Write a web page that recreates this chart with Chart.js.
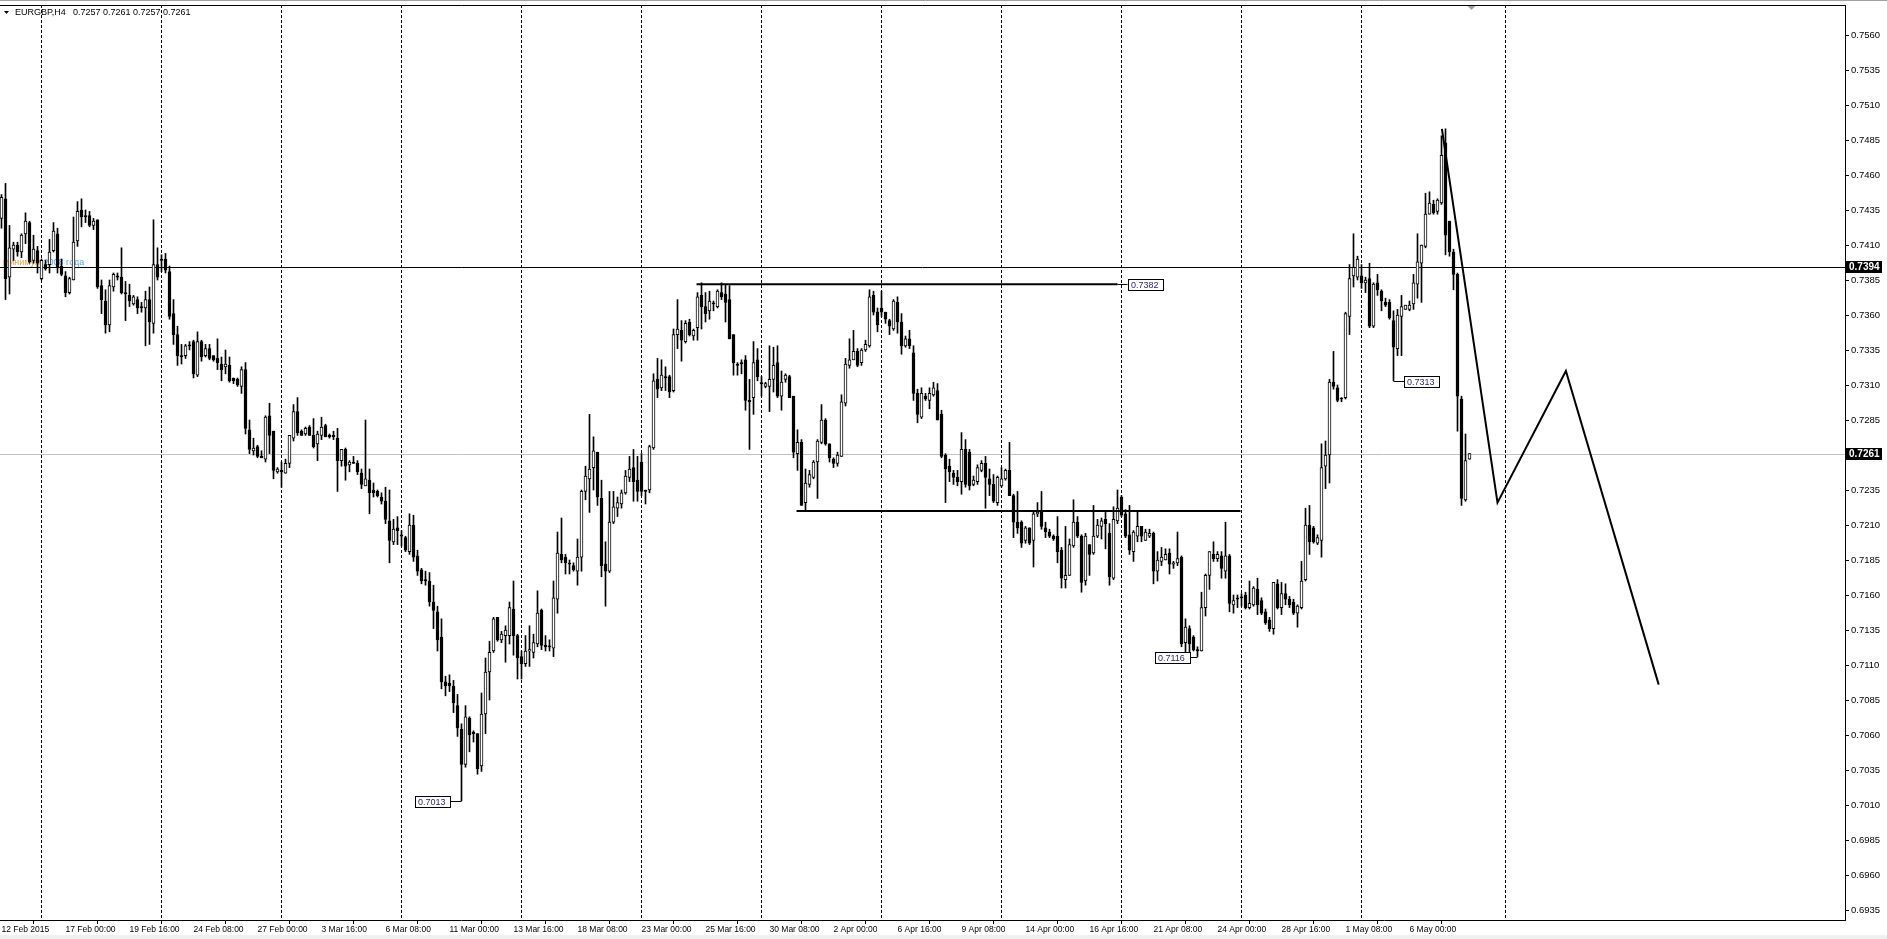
<!DOCTYPE html>
<html>
<head>
<meta charset="utf-8">
<script src="https://cdn.jsdelivr.net/npm/chart.js@4.4.1/dist/chart.umd.min.js"></script>
<style>
  html, body { margin: 0; padding: 0; background: #fff; }
  #wrap { width: 1887px; height: 939px; }
</style>
</head>
<body>
<div id="wrap"><canvas id="chart" width="1887" height="939"></canvas></div>
<script>
// EURGBP H4 bars, 12 Feb 2015 08:00 .. 8 May 2015
const opens = [
  0.7429,0.7443,0.7387,0.7407,0.7410,0.7405,0.7418,0.7426,0.7399,0.7406,
  0.7386,0.7396,0.7396,0.7406,0.7418,0.7395,0.7388,0.7376,0.7385,0.7413,
  0.7435,0.7431,0.7431,0.7424,0.7428,0.7381,0.7370,0.7353,0.7380,0.7388,
  0.7387,0.7376,0.7374,0.7368,0.7371,0.7366,0.7365,0.7371,0.7354,0.7396,
  0.7399,0.7400,0.7391,0.7361,0.7346,0.7331,0.7331,0.7338,0.7341,0.7317,
  0.7341,0.7331,0.7336,0.7331,0.7329,0.7325,0.7323,0.7324,0.7315,0.7314,
  0.7309,0.7321,0.7278,0.7263,0.7266,0.7259,0.7257,0.7288,0.7277,0.7248,
  0.7249,0.7247,0.7254,0.7272,0.7291,0.7277,0.7275,0.7280,0.7274,0.7268,
  0.7274,0.7281,0.7274,0.7274,0.7272,0.7256,0.7264,0.7253,0.7255,0.7254,
  0.7247,0.7238,0.7242,0.7235,0.7234,0.7230,0.7227,0.7213,0.7198,0.7208,
  0.7203,0.7201,0.7191,0.7210,0.7188,0.7178,0.7171,0.7170,0.7155,0.7148,
  0.7130,0.7098,0.7097,0.7095,0.7081,0.7064,0.7039,0.7072,0.7062,0.7061,
  0.7038,0.7075,0.7105,0.7120,0.7144,0.7128,0.7131,0.7131,0.7150,0.7131,
  0.7116,0.7111,0.7120,0.7119,0.7125,0.7149,0.7124,0.7123,0.7122,0.7157,
  0.7189,0.7187,0.7182,0.7181,0.7177,0.7187,0.7234,0.7243,0.7251,0.7262,
  0.7229,0.7182,0.7177,0.7212,0.7222,0.7225,0.7233,0.7244,0.7251,0.7242,
  0.7255,0.7234,0.7235,0.7265,0.7314,0.7308,0.7316,0.7316,0.7306,0.7346,
  0.7349,0.7341,0.7355,0.7345,0.7351,0.7374,0.7366,0.7363,0.7368,0.7366,
  0.7376,0.7375,0.7371,0.7346,0.7325,0.7326,0.7328,0.7299,0.7301,0.7328,
  0.7311,0.7309,0.7309,0.7314,0.7326,0.7302,0.7314,0.7316,0.7302,0.7261,
  0.7269,0.7226,0.7239,0.7244,0.7255,0.7269,0.7285,0.7268,0.7257,0.7254,
  0.7259,0.7297,0.7324,0.7328,0.7334,0.7326,0.7335,0.7338,0.7374,0.7362,
  0.7365,0.7362,0.7356,0.7350,0.7369,0.7355,0.7338,0.7343,0.7333,0.7304,
  0.7287,0.7302,0.7299,0.7303,0.7306,0.7289,0.7260,0.7252,0.7247,0.7244,
  0.7241,0.7264,0.7262,0.7239,0.7241,0.7249,0.7254,0.7243,0.7239,0.7226,
  0.7238,0.7243,0.7249,0.7231,0.7212,0.7212,0.7199,0.7208,0.7199,0.7218,
  0.7220,0.7208,0.7205,0.7202,0.7202,0.7192,0.7171,0.7174,0.7195,0.7212,
  0.7202,0.7170,0.7196,0.7190,0.7202,0.7209,0.7214,0.7204,0.7172,0.7213,
  0.7230,0.7218,0.7203,0.7191,0.7202,0.7209,0.7199,0.7202,0.7204,0.7177,
  0.7184,0.7185,0.7190,0.7182,0.7183,0.7187,0.7126,0.7136,0.7130,0.7121,
  0.7120,0.7151,0.7174,0.7189,0.7186,0.7188,0.7177,0.7188,0.7153,0.7157,
  0.7158,0.7160,0.7151,0.7153,0.7164,0.7156,0.7148,0.7142,0.7136,0.7168,
  0.7151,0.7161,0.7157,0.7155,0.7147,0.7151,0.7171,0.7210,0.7208,0.7197,
  0.7199,0.7252,0.7260,0.7312,0.7308,0.7300,0.7301,0.7359,0.7388,0.7387,
  0.7388,0.7383,0.7386,0.7352,0.7383,0.7377,0.7369,0.7369,0.7356,0.7336,
  0.7359,0.7364,0.7364,0.7368,0.7382,0.7397,0.7409,0.7432,0.7439,0.7434,
  0.7440,0.7483,0.7427,0.7405,0.7389,0.7300,0.7228,0.7257
];
const highs = [
  0.7446,0.7454,0.7424,0.7412,0.7412,0.7418,0.7433,0.7427,0.7417,0.7409,
  0.7400,0.7399,0.7414,0.7426,0.7422,0.7400,0.7391,0.7387,0.7430,0.7441,
  0.7443,0.7435,0.7434,0.7429,0.7428,0.7385,0.7378,0.7385,0.7390,0.7390,
  0.7408,0.7384,0.7382,0.7374,0.7373,0.7369,0.7377,0.7380,0.7428,0.7408,
  0.7403,0.7404,0.7395,0.7371,0.7352,0.7339,0.7339,0.7341,0.7342,0.7348,
  0.7342,0.7339,0.7339,0.7331,0.7343,0.7330,0.7335,0.7330,0.7315,0.7315,
  0.7323,0.7326,0.7285,0.7272,0.7267,0.7263,0.7288,0.7297,0.7277,0.7251,
  0.7255,0.7257,0.7274,0.7296,0.7301,0.7278,0.7280,0.7281,0.7286,0.7277,
  0.7287,0.7282,0.7275,0.7277,0.7279,0.7264,0.7265,0.7256,0.7259,0.7256,
  0.7250,0.7285,0.7250,0.7240,0.7235,0.7233,0.7237,0.7235,0.7214,0.7216,
  0.7206,0.7202,0.7218,0.7217,0.7192,0.7179,0.7177,0.7176,0.7167,0.7152,
  0.7143,0.7102,0.7103,0.7099,0.7089,0.7068,0.7081,0.7073,0.7063,0.7061,
  0.7090,0.7115,0.7127,0.7144,0.7144,0.7134,0.7138,0.7155,0.7170,0.7132,
  0.7120,0.7131,0.7138,0.7132,0.7163,0.7150,0.7131,0.7128,0.7170,0.7205,
  0.7215,0.7189,0.7185,0.7183,0.7200,0.7235,0.7252,0.7289,0.7273,0.7262,
  0.7242,0.7198,0.7234,0.7234,0.7230,0.7235,0.7249,0.7259,0.7264,0.7259,
  0.7261,0.7235,0.7267,0.7318,0.7329,0.7328,0.7323,0.7317,0.7350,0.7371,
  0.7356,0.7356,0.7357,0.7350,0.7376,0.7383,0.7376,0.7377,0.7370,0.7378,
  0.7383,0.7382,0.7381,0.7346,0.7326,0.7328,0.7331,0.7314,0.7341,0.7336,
  0.7316,0.7312,0.7338,0.7337,0.7338,0.7320,0.7318,0.7317,0.7302,0.7278,
  0.7271,0.7250,0.7249,0.7256,0.7271,0.7296,0.7286,0.7268,0.7258,0.7262,
  0.7303,0.7329,0.7343,0.7349,0.7336,0.7336,0.7342,0.7378,0.7377,0.7365,
  0.7377,0.7362,0.7357,0.7371,0.7373,0.7361,0.7345,0.7349,0.7338,0.7307,
  0.7308,0.7304,0.7308,0.7312,0.7311,0.7292,0.7261,0.7257,0.7249,0.7249,
  0.7276,0.7271,0.7264,0.7245,0.7253,0.7256,0.7259,0.7250,0.7246,0.7245,
  0.7251,0.7250,0.7269,0.7232,0.7234,0.7213,0.7209,0.7208,0.7220,0.7226,
  0.7234,0.7212,0.7207,0.7203,0.7216,0.7194,0.7209,0.7200,0.7228,0.7216,
  0.7203,0.7204,0.7196,0.7224,0.7214,0.7215,0.7219,0.7211,0.7223,0.7235,
  0.7231,0.7221,0.7224,0.7206,0.7220,0.7209,0.7207,0.7207,0.7205,0.7191,
  0.7194,0.7193,0.7193,0.7184,0.7205,0.7188,0.7143,0.7138,0.7131,0.7123,
  0.7162,0.7175,0.7191,0.7198,0.7191,0.7191,0.7212,0.7189,0.7160,0.7160,
  0.7161,0.7162,0.7170,0.7166,0.7172,0.7158,0.7150,0.7144,0.7169,0.7171,
  0.7169,0.7168,0.7159,0.7157,0.7153,0.7184,0.7222,0.7224,0.7209,0.7203,
  0.7268,0.7270,0.7314,0.7334,0.7310,0.7301,0.7362,0.7396,0.7418,0.7402,
  0.7396,0.7387,0.7397,0.7383,0.7389,0.7378,0.7372,0.7371,0.7363,0.7364,
  0.7374,0.7367,0.7370,0.7389,0.7418,0.7410,0.7447,0.7448,0.7442,0.7443,
  0.7488,0.7493,0.7427,0.7407,0.7390,0.7302,0.7275,0.7261
];
const lows = [
  0.7422,0.7371,0.7375,0.7399,0.7402,0.7401,0.7411,0.7397,0.7397,0.7390,
  0.7385,0.7392,0.7390,0.7405,0.7390,0.7388,0.7373,0.7375,0.7385,0.7409,
  0.7423,0.7426,0.7423,0.7421,0.7379,0.7361,0.7347,0.7348,0.7377,0.7385,
  0.7375,0.7356,0.7366,0.7367,0.7361,0.7362,0.7338,0.7339,0.7347,0.7385,
  0.7391,0.7390,0.7357,0.7339,0.7324,0.7325,0.7329,0.7335,0.7315,0.7316,
  0.7327,0.7330,0.7328,0.7327,0.7321,0.7313,0.7318,0.7312,0.7311,0.7309,
  0.7304,0.7275,0.7261,0.7260,0.7258,0.7258,0.7255,0.7261,0.7243,0.7247,
  0.7237,0.7247,0.7251,0.7270,0.7274,0.7274,0.7274,0.7274,0.7265,0.7256,
  0.7271,0.7273,0.7272,0.7271,0.7234,0.7252,0.7242,0.7248,0.7254,0.7246,
  0.7236,0.7238,0.7218,0.7230,0.7230,0.7225,0.7211,0.7183,0.7196,0.7196,
  0.7195,0.7191,0.7189,0.7184,0.7174,0.7168,0.7167,0.7152,0.7136,0.7120,
  0.7093,0.7088,0.7091,0.7076,0.7059,0.7013,0.7037,0.7048,0.7055,0.7032,
  0.7034,0.7061,0.7085,0.7119,0.7127,0.7126,0.7112,0.7125,0.7117,0.7100,
  0.7100,0.7109,0.7109,0.7115,0.7123,0.7121,0.7120,0.7120,0.7116,0.7147,
  0.7183,0.7175,0.7175,0.7177,0.7167,0.7177,0.7228,0.7219,0.7235,0.7224,
  0.7173,0.7152,0.7176,0.7211,0.7216,0.7222,0.7232,0.7241,0.7227,0.7227,
  0.7231,0.7225,0.7233,0.7264,0.7301,0.7306,0.7306,0.7301,0.7305,0.7336,
  0.7327,0.7340,0.7345,0.7342,0.7342,0.7350,0.7355,0.7357,0.7363,0.7365,
  0.7371,0.7355,0.7343,0.7317,0.7317,0.7318,0.7292,0.7264,0.7289,0.7313,
  0.7302,0.7308,0.7291,0.7305,0.7301,0.7292,0.7312,0.7301,0.7258,0.7249,
  0.7224,0.7220,0.7237,0.7243,0.7229,0.7268,0.7267,0.7255,0.7251,0.7252,
  0.7259,0.7295,0.7322,0.7328,0.7323,0.7324,0.7334,0.7337,0.7360,0.7348,
  0.7359,0.7354,0.7346,0.7349,0.7347,0.7332,0.7337,0.7336,0.7299,0.7283,
  0.7286,0.7299,0.7293,0.7302,0.7285,0.7258,0.7226,0.7241,0.7239,0.7238,
  0.7232,0.7237,0.7235,0.7238,0.7239,0.7248,0.7222,0.7231,0.7226,0.7224,
  0.7237,0.7242,0.7231,0.7201,0.7204,0.7194,0.7197,0.7196,0.7180,0.7216,
  0.7207,0.7201,0.7201,0.7199,0.7183,0.7165,0.7165,0.7174,0.7194,0.7201,
  0.7162,0.7167,0.7174,0.7189,0.7201,0.7200,0.7193,0.7167,0.7171,0.7211,
  0.7216,0.7201,0.7189,0.7184,0.7198,0.7198,0.7199,0.7201,0.7168,0.7170,
  0.7181,0.7185,0.7175,0.7179,0.7181,0.7123,0.7118,0.7118,0.7120,0.7116,
  0.7120,0.7145,0.7164,0.7184,0.7184,0.7172,0.7172,0.7148,0.7147,0.7151,
  0.7152,0.7150,0.7150,0.7152,0.7146,0.7146,0.7139,0.7134,0.7132,0.7150,
  0.7146,0.7153,0.7151,0.7146,0.7137,0.7150,0.7170,0.7189,0.7197,0.7196,
  0.7187,0.7236,0.7240,0.7307,0.7298,0.7298,0.7300,0.7346,0.7380,0.7385,
  0.7379,0.7376,0.7351,0.7351,0.7374,0.7363,0.7366,0.7357,0.7313,0.7331,
  0.7331,0.7364,0.7363,0.7364,0.7372,0.7369,0.7408,0.7432,0.7432,0.7432,
  0.7439,0.7403,0.7402,0.7378,0.7277,0.7224,0.7227,0.7257
];
const closes = [
  0.7444,0.7386,0.7408,0.7410,0.7405,0.7417,0.7427,0.7398,0.7407,0.7397,
  0.7399,0.7393,0.7405,0.7420,0.7394,0.7389,0.7376,0.7386,0.7412,0.7434,
  0.7430,0.7430,0.7424,0.7427,0.7380,0.7371,0.7353,0.7381,0.7389,0.7387,
  0.7376,0.7375,0.7370,0.7373,0.7365,0.7365,0.7371,0.7355,0.7396,0.7387,
  0.7399,0.7392,0.7359,0.7346,0.7331,0.7330,0.7338,0.7338,0.7318,0.7341,
  0.7330,0.7336,0.7329,0.7328,0.7326,0.7321,0.7325,0.7313,0.7313,0.7310,
  0.7321,0.7279,0.7264,0.7265,0.7259,0.7258,0.7287,0.7274,0.7249,0.7250,
  0.7248,0.7254,0.7274,0.7291,0.7276,0.7274,0.7279,0.7274,0.7266,0.7275,
  0.7280,0.7273,0.7273,0.7273,0.7256,0.7264,0.7252,0.7255,0.7254,0.7248,
  0.7239,0.7243,0.7233,0.7233,0.7231,0.7227,0.7214,0.7199,0.7207,0.7206,
  0.7202,0.7192,0.7210,0.7187,0.7177,0.7170,0.7170,0.7155,0.7149,0.7128,
  0.7098,0.7095,0.7095,0.7083,0.7065,0.7039,0.7073,0.7060,0.7061,0.7036,
  0.7075,0.7105,0.7119,0.7143,0.7128,0.7132,0.7135,0.7151,0.7131,0.7115,
  0.7111,0.7120,0.7121,0.7126,0.7147,0.7124,0.7123,0.7123,0.7158,0.7190,
  0.7185,0.7183,0.7182,0.7178,0.7187,0.7234,0.7245,0.7250,0.7263,0.7230,
  0.7181,0.7177,0.7212,0.7223,0.7226,0.7233,0.7245,0.7250,0.7241,0.7234,
  0.7234,0.7234,0.7266,0.7313,0.7307,0.7317,0.7315,0.7305,0.7346,0.7350,
  0.7342,0.7354,0.7346,0.7349,0.7373,0.7366,0.7361,0.7370,0.7368,0.7377,
  0.7373,0.7369,0.7343,0.7326,0.7324,0.7325,0.7299,0.7298,0.7326,0.7316,
  0.7311,0.7311,0.7314,0.7324,0.7302,0.7312,0.7317,0.7301,0.7262,0.7269,
  0.7224,0.7240,0.7246,0.7255,0.7270,0.7285,0.7268,0.7258,0.7254,0.7260,
  0.7298,0.7325,0.7328,0.7334,0.7324,0.7335,0.7339,0.7373,0.7362,0.7353,
  0.7362,0.7357,0.7352,0.7370,0.7355,0.7338,0.7343,0.7338,0.7304,0.7289,
  0.7304,0.7300,0.7304,0.7308,0.7285,0.7259,0.7250,0.7248,0.7244,0.7241,
  0.7264,0.7239,0.7238,0.7242,0.7251,0.7254,0.7244,0.7239,0.7227,0.7244,
  0.7243,0.7249,0.7231,0.7212,0.7208,0.7197,0.7208,0.7197,0.7218,0.7219,
  0.7209,0.7205,0.7202,0.7200,0.7191,0.7172,0.7174,0.7196,0.7212,0.7202,
  0.7169,0.7202,0.7189,0.7202,0.7210,0.7213,0.7211,0.7173,0.7214,0.7222,
  0.7217,0.7202,0.7192,0.7205,0.7209,0.7202,0.7205,0.7204,0.7177,0.7185,
  0.7187,0.7189,0.7182,0.7183,0.7186,0.7125,0.7137,0.7125,0.7121,0.7120,
  0.7151,0.7174,0.7191,0.7186,0.7189,0.7179,0.7188,0.7154,0.7156,0.7157,
  0.7158,0.7151,0.7154,0.7165,0.7153,0.7147,0.7140,0.7136,0.7169,0.7151,
  0.7161,0.7157,0.7153,0.7147,0.7152,0.7170,0.7210,0.7198,0.7198,0.7201,
  0.7251,0.7260,0.7312,0.7309,0.7299,0.7300,0.7361,0.7386,0.7394,0.7400,
  0.7383,0.7385,0.7352,0.7382,0.7378,0.7370,0.7367,0.7358,0.7337,0.7360,
  0.7366,0.7367,0.7367,0.7383,0.7398,0.7410,0.7432,0.7440,0.7433,0.7442,
  0.7474,0.7417,0.7405,0.7389,0.7302,0.7229,0.7256,0.7261
];

// time scale labels, one every 16 bars
const timeLabels = [
  "12 Feb 2015", "17 Feb 00:00", "19 Feb 16:00", "24 Feb 08:00", "27 Feb 00:00",
  "3 Mar 16:00", "6 Mar 08:00", "11 Mar 00:00", "13 Mar 16:00", "18 Mar 08:00",
  "23 Mar 00:00", "25 Mar 16:00", "30 Mar 08:00", "2 Apr 00:00", "6 Apr 16:00",
  "9 Apr 08:00", "14 Apr 00:00", "16 Apr 16:00", "21 Apr 08:00", "24 Apr 00:00",
  "28 Apr 16:00", "1 May 08:00", "6 May 00:00"
];
const labelStep = 16;
// bars that open a new week (dashed grid)
const weekStarts = [10, 40, 70, 100, 130, 160, 190, 220, 250, 280, 310, 340, 376];
const priceTicks = [
  0.6935, 0.6960, 0.6985, 0.7010, 0.7035, 0.7060, 0.7085, 0.7110, 0.7135,
  0.7160, 0.7185, 0.7210, 0.7235, 0.7260, 0.7285, 0.7310, 0.7335, 0.7360,
  0.7385, 0.7410, 0.7435, 0.7460, 0.7485, 0.7510, 0.7535, 0.7560
];

const levelPrice = 0.7394;
const bidPrice = 0.7261;
const rangeHigh = [{ x: 173.75, y: 0.7382 }, { x: 279, y: 0.7382 }];
const rangeLow = [{ x: 198.75, y: 0.7220 }, { x: 309.75, y: 0.7220 }];
const projection = [
  { x: 360.1, y: 0.7493 }, { x: 374, y: 0.7226 },
  { x: 391.1, y: 0.7320 }, { x: 414.3, y: 0.7096 }
];
const swingLabels = [
  { bar: 115, price: 0.7013, side: "left", gap: 11 },
  { bar: 299, price: 0.7116, side: "left", gap: 7 },
  { bar: 348, price: 0.7313, side: "right", gap: 10 }
];

const FONT = "'Liberation Sans', Arial, sans-serif";
const idx = opens.map((_, i) => i);

const mtOverlay = {
  id: "mtOverlay",
  beforeDraw(chart) {
    const { ctx, width, height } = chart;
    ctx.save();
    ctx.fillStyle = "#ffffff";
    ctx.fillRect(0, 0, width, height);
    ctx.fillStyle = "#a0a0a0";
    ctx.fillRect(0, 0, width, 1);
    ctx.fillStyle = "#f0f0f0";
    ctx.fillRect(0, 935, width, 4);
    ctx.restore();
  },
  beforeDatasetsDraw(chart) {
    const { ctx, chartArea: a, scales: { x, y } } = chart;
    ctx.save();
    ctx.lineWidth = 1;
    ctx.strokeStyle = "#000";
    ctx.setLineDash([3, 2]);
    weekStarts.forEach(i => {
      const px = Math.floor(x.getPixelForValue(i)) + 0.5;
      ctx.beginPath();
      ctx.moveTo(px, a.top);
      ctx.lineTo(px, a.bottom);
      ctx.stroke();
    });
    ctx.setLineDash([]);

    const yb = Math.round(y.getPixelForValue(bidPrice)) + 0.5;
    ctx.strokeStyle = "#c0c0c0";
    ctx.beginPath(); ctx.moveTo(a.left, yb); ctx.lineTo(a.right, yb); ctx.stroke();
    const yl = Math.round(y.getPixelForValue(levelPrice)) + 0.5;
    ctx.strokeStyle = "#000";
    ctx.beginPath(); ctx.moveTo(a.left, yl); ctx.lineTo(a.right, yl); ctx.stroke();

    ctx.font = "9px " + FONT;
    ctx.textBaseline = "middle";
    ctx.fillStyle = "#e8a23c";
    ctx.fillText("минимум", 3, yl - 5);
    ctx.fillStyle = "#5aa8e0";
    ctx.fillText("2008 года", 3 + ctx.measureText("минимум ").width, yl - 5);
    ctx.restore();
  },
  afterDatasetsDraw(chart) {
    const { ctx, chartArea: a, scales: { x, y } } = chart;
    ctx.save();
    ctx.font = "9px " + FONT;
    ctx.textBaseline = "middle";
    ctx.lineWidth = 1;

    const box = (left, cy, text, bg, fg, font) => {
      const top = Math.round(cy) - 6;
      ctx.fillStyle = bg;
      ctx.fillRect(left, top, 36, 12);
      ctx.strokeStyle = "#000";
      ctx.strokeRect(left + 0.5, top + 0.5, 35, 11);
      ctx.fillStyle = fg;
      ctx.font = font || "9px " + FONT;
      ctx.fillText(text, left + 3, top + 6.5);
    };

    // range high label
    const rEnd = x.getPixelForValue(rangeHigh[1].x);
    const ry = Math.round(y.getPixelForValue(rangeHigh[1].y)) + 0.5;
    ctx.strokeStyle = "#000";
    ctx.beginPath(); ctx.moveTo(rEnd, ry); ctx.lineTo(rEnd + 10, ry); ctx.stroke();
    box(Math.round(rEnd + 10), ry, rangeHigh[1].y.toFixed(4), "#fff", "#2b1f6e");

    swingLabels.forEach(s => {
      const bx = Math.floor(x.getPixelForValue(s.bar)) + 0.5;
      const sy = Math.round(y.getPixelForValue(s.price)) + 0.5;
      const left = s.side === "left" ? Math.round(bx - s.gap - 36) : Math.round(bx + s.gap);
      ctx.strokeStyle = "#000";
      ctx.beginPath();
      if (s.side === "left") { ctx.moveTo(left + 36, sy); ctx.lineTo(bx, sy); }
      else { ctx.moveTo(bx, sy); ctx.lineTo(left, sy); }
      ctx.stroke();
      box(left, sy, s.price.toFixed(4), "#fff", "#2b1f6e");
    });

    // frame top
    ctx.strokeStyle = "#000";
    ctx.beginPath(); ctx.moveTo(a.left, a.top + 0.5); ctx.lineTo(a.right, a.top + 0.5); ctx.stroke();

    // price boxes on the axis
    const axisFont = "bold 10px " + FONT;
    box(a.right + 1, y.getPixelForValue(levelPrice), levelPrice.toFixed(4), "#000", "#fff", axisFont);
    box(a.right + 1, y.getPixelForValue(bidPrice), bidPrice.toFixed(4), "#000", "#fff", axisFont);

    // chart shift marker
    const sx = x.getPixelForValue(367) + 2;
    ctx.fillStyle = "#a0a0a0";
    ctx.beginPath();
    ctx.moveTo(sx - 4, a.top + 1); ctx.lineTo(sx + 4, a.top + 1); ctx.lineTo(sx, a.top + 5);
    ctx.closePath(); ctx.fill();

    // title
    ctx.font = "9px " + FONT;
    ctx.fillStyle = "#000";
    ctx.beginPath();
    ctx.moveTo(4, 11); ctx.lineTo(9, 11); ctx.lineTo(6.5, 14); ctx.closePath(); ctx.fill();
    ctx.fillText("EURGBP,H4", 15, 12.5);
    ctx.fillText("0.7257 0.7261 0.7257 0.7261", 73, 12.5);
    ctx.restore();
  }
};

new Chart(document.getElementById("chart"), {
  type: "bar",
  data: {
    datasets: [
      {
        type: "line", data: rangeHigh, borderColor: "#000", borderWidth: 2,
        pointRadius: 0, fill: false, order: 0
      },
      {
        type: "line", data: rangeLow, borderColor: "#000", borderWidth: 2,
        pointRadius: 0, fill: false, order: 0
      },
      {
        type: "line", data: projection, borderColor: "#000", borderWidth: 2,
        pointRadius: 0, fill: false, order: 0
      },
      {
        data: idx.map(i => ({ x: i, y: [opens[i], closes[i]] })),
        backgroundColor: idx.map(i => (closes[i] > opens[i] ? "#ffffff" : "#000000")),
        borderColor: "#000", borderWidth: 1, borderSkipped: false,
        barThickness: 3, minBarLength: 1, grouped: false, order: 1
      },
      {
        data: idx.map(i => ({ x: i, y: [lows[i], highs[i]] })),
        backgroundColor: "#000", borderWidth: 0,
        barThickness: 1, grouped: false, order: 2
      }
    ]
  },
  options: {
    responsive: false,
    animation: false,
    devicePixelRatio: 1,
    events: [],
    layout: { padding: { top: 5, left: 0, right: 0, bottom: 0 } },
    plugins: { legend: { display: false }, tooltip: { enabled: false } },
    scales: {
      x: {
        type: "linear", position: "bottom", offset: false,
        min: -0.375, max: 460.875,
        afterBuildTicks: s => { s.ticks = timeLabels.map((_, k) => ({ value: k * labelStep })); },
        afterFit: s => { s.height = 19; s.paddingLeft = 0; s.paddingRight = 0; },
        grid: { drawOnChartArea: false, tickLength: 4, color: "#000" },
        border: { color: "#000" },
        ticks: {
          autoSkip: false, maxRotation: 0, align: "start", padding: 1,
          color: "#000", font: { family: FONT, size: 8.5 },
          callback: (v, k) => timeLabels[k]
        }
      },
      y: {
        type: "linear", position: "right",
        min: 0.692786, max: 0.758143,
        afterBuildTicks: s => { s.ticks = priceTicks.map(v => ({ value: v })); },
        afterFit: s => { s.width = 42; s.paddingTop = 0; s.paddingBottom = 0; },
        grid: { drawOnChartArea: false, tickLength: 4, color: "#000" },
        border: { color: "#000" },
        ticks: {
          padding: 2, color: "#000", font: { family: FONT, size: 9.5 },
          callback: v => v.toFixed(4)
        }
      }
    }
  },
  plugins: [mtOverlay]
});
</script>
</body>
</html>
